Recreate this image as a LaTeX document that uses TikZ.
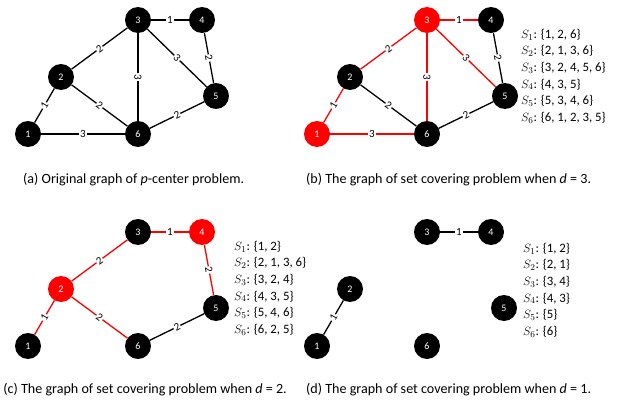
\documentclass[tikz,border=0pt]{standalone}
\usepackage{fontspec}
\setmainfont{Carlito}
\usepackage{xcolor}
\usepackage{tikz}
\usetikzlibrary{positioning}
\definecolor{hotred}{RGB}{255, 0, 0}

\begin{document}
\begin{tikzpicture}[
  x=1pt, y=-1pt,
  vertex/.style={circle, fill=black, minimum size=26pt, inner sep=0pt,
                 text=white, font=\fontsize{10}{10}\selectfont},
  picked/.style={vertex, fill=hotred},
  link/.style={line width=1.3pt, black},
  hot/.style={link, draw=hotred},
  weight/.style={fill=white, inner sep=0.8pt, sloped, text=black,
                 font=\fontsize{11}{11}\selectfont},
  sets/.style={anchor=west, align=left, inner sep=0pt,
               font=\fontsize{12.8}{16.6}\selectfont},
  caption/.style={inner sep=0pt, font=\fontsize{14.1}{15}\selectfont}
]
\path[use as bounding box, clip] (0,0) rectangle (619,404);

% (a) original graph
\foreach \n/\x/\y in {1/28/134, 2/61/77, 3/138/20, 4/202/20, 5/216/96, 6/138/134}
  \node[vertex] (a\n) at (\x,\y) {\n};
\foreach \u/\v/\w in {1/2/1, 2/3/2, 3/4/1, 4/5/2, 3/5/3, 3/6/3, 2/6/2, 1/6/3, 6/5/2}
  \draw[link] (a\u) -- node[weight]{\w} (a\v);
\node[caption, anchor=west] (capa) at (23,180) {(a) Original graph of \textit{p}-center problem.};

% (b) d = 3
\foreach \n/\x/\y/\s in {1/28/134/picked, 2/61/77/vertex, 3/138/20/picked,
                         4/202/20/vertex, 5/216/96/vertex, 6/138/134/vertex}
  \node[\s] (b\n) at (\x+289,\y) {\n};
\foreach \u/\v/\w/\s in {1/2/1/hot, 2/3/2/hot, 3/4/1/hot, 4/5/2/link, 3/5/3/hot,
                         3/6/3/hot, 2/6/2/link, 1/6/3/hot, 6/5/2/link}
  \draw[\s] (b\u) -- node[weight]{\w} (b\v);
\node[sets] (setb) at (521,76) {$S_1$: \{1, 2, 6\}\\ $S_2$: \{2, 1, 3, 6\}\\
  $S_3$: \{3, 2, 4, 5, 6\}\\ $S_4$: \{4, 3, 5\}\\ $S_5$: \{5, 3, 4, 6\}\\
  $S_6$: \{6, 1, 2, 3, 5\}};
\node[caption, anchor=west] (capb) at (306,180) {(b) The graph of set covering problem when \textit{d} = 3.};

% (c) d = 2
\foreach \n/\x/\y/\s in {1/28/134/vertex, 2/61/77/picked, 3/138/20/vertex,
                         4/202/20/picked, 5/216/96/vertex, 6/138/134/vertex}
  \node[\s] (c\n) at (\x,\y+212) {\n};
\foreach \u/\v/\w/\s in {1/2/1/hot, 2/3/2/hot, 3/4/1/hot, 4/5/2/hot, 2/6/2/hot, 6/5/2/link}
  \draw[\s] (c\u) -- node[weight]{\w} (c\v);
\node[sets] (setc) at (234,288) {$S_1$: \{1, 2\}\\ $S_2$: \{2, 1, 3, 6\}\\
  $S_3$: \{3, 2, 4\}\\ $S_4$: \{4, 3, 5\}\\ $S_5$: \{5, 4, 6\}\\
  $S_6$: \{6, 2, 5\}};
\node[caption, anchor=east] (capc) at (287,390) {(c) The graph of set covering problem when \textit{d} = 2.};

% (d) d = 1
\foreach \n/\x/\y in {1/28/134, 2/61/77, 3/138/20, 4/202/20, 5/215/96, 6/138/134}
  \node[vertex] (d\n) at (\x+289,\y+212) {\n};
\draw[link] (d3) -- node[weight]{1} (d4);
\draw[link] (d1) -- node[weight]{1} (d2);
\node[sets] (setd) at (523,290) {$S_1$: \{1, 2\}\\ $S_2$: \{2, 1\}\\
  $S_3$: \{3, 4\}\\ $S_4$: \{4, 3\}\\ $S_5$: \{5\}\\ $S_6$: \{6\}};
\node[caption, anchor=west] (capd) at (306,390) {(d) The graph of set covering problem when \textit{d} = 1.};
\end{tikzpicture}
\end{document}
